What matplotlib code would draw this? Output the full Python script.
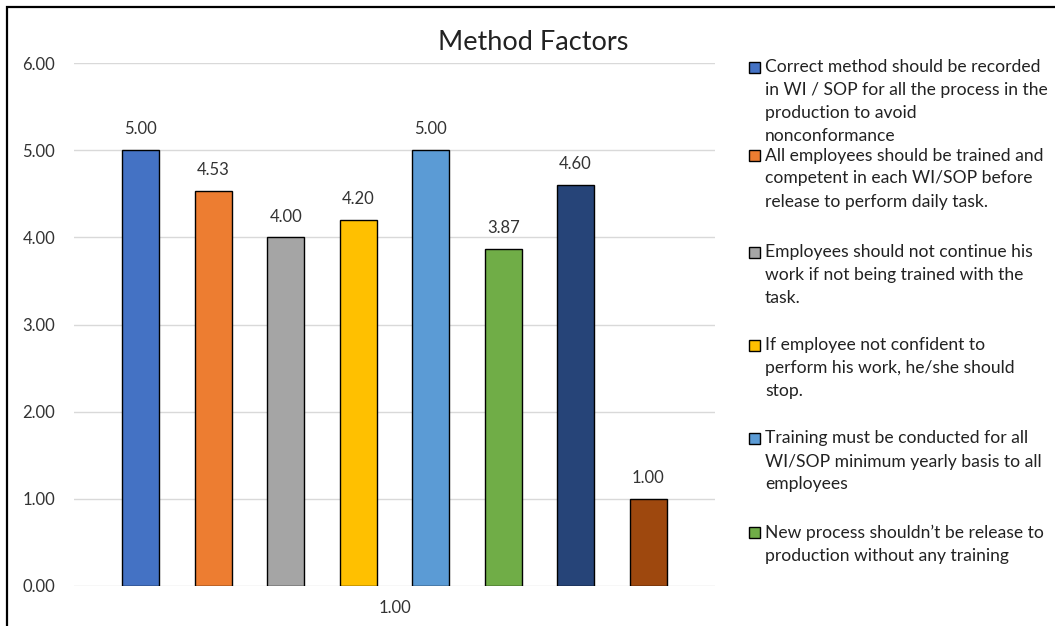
import matplotlib.pyplot as plt
from matplotlib.patches import Rectangle

plt.rcParams['font.family'] = ['Lato', 'DejaVu Sans']

# scores per method factor (one bar each)
scores = [5.00, 4.53, 4.00, 4.20, 5.00, 3.87, 4.60, 1.00]
colors = ['#4472C4', '#ED7D31', '#A5A5A5', '#FFC000',
          '#5B9BD5', '#70AD47', '#264478', '#9E480E']
group_label = '1.00'
yticks = [0, 1, 2, 3, 4, 5, 6]
legend_text = [
    ['Correct method should be recorded', 'in WI / SOP for all the process in the',
     'production to avoid', 'nonconformance'],
    ['All employees should be trained and', 'competent in each WI/SOP before',
     'release to perform daily task.'],
    ['Employees should not continue his', 'work if not being trained with the', 'task.'],
    ['If employee not confident to', 'perform his work, he/she should', 'stop.'],
    ['Training must be conducted for all', 'WI/SOP minimum yearly basis to all',
     'employees'],
    ['New process shouldn\u2019t be release to', 'production without any training'],
]

W, H = 1055, 626
fig = plt.figure(figsize=(W / 100, H / 100), dpi=100)


def fx(px):
    return px / W


def fy(py):
    return 1 - py / H


ax = fig.add_axes([fx(74), fy(586), fx(715) - fx(74), fy(63) - fy(586)])
x = list(range(len(scores)))
bars = ax.bar(x, scores, width=0.51, color=colors, edgecolor='black',
              linewidth=1.0, zorder=3)
for xi, v in zip(x, scores):
    ax.annotate(f'{v:.2f}', (xi, v), xytext=(0, 15), textcoords='offset points',
                ha='center', va='center', fontsize=12, color='#333333')

ax.set_xlim(-0.924, len(scores) - 1 + 0.924)
ax.set_ylim(0, 6)
ax.set_yticks(yticks)
ax.set_yticklabels([f'{t:.2f}' for t in yticks])
ax.set_xticks([(len(scores) - 1) / 2])
ax.set_xticklabels([group_label])
ax.tick_params(length=0, labelsize=12, labelcolor='#333333')
ax.tick_params(axis='y', pad=13.5)
ax.tick_params(axis='x', pad=10)
ax.grid(axis='y', color='#D9D9D9', linewidth=1.0, zorder=0)
for s in ax.spines.values():
    s.set_visible(False)

fig.text(fx(533), fy(42), 'Method Factors', ha='center', va='center',
         fontsize=19.5, color='#222222')

# legend on the right, one slot per entry
rows = [67, 155.5, 252, 345, 438.5, 532.6]
for lines, col, y0 in zip(legend_text, colors, rows):
    fig.patches.append(Rectangle((fx(749), fy(y0 + 5.5)), fx(11), 11 / H,
                                 transform=fig.transFigure, facecolor=col,
                                 edgecolor='black', linewidth=1.0))
    for k, line in enumerate(lines):
        fig.text(fx(765), fy(y0 + k * 23), line, ha='left', va='center',
                 fontsize=12.6, color='#222222')

# chart border (runs off the right and bottom edges)
fig.patches.append(Rectangle((fx(7), fy(H + 20)), fx(W + 20), (H + 20 - 7) / H,
                             transform=fig.transFigure, fill=False,
                             edgecolor='black', linewidth=1.6))

fig.savefig('out.png', dpi=100)
